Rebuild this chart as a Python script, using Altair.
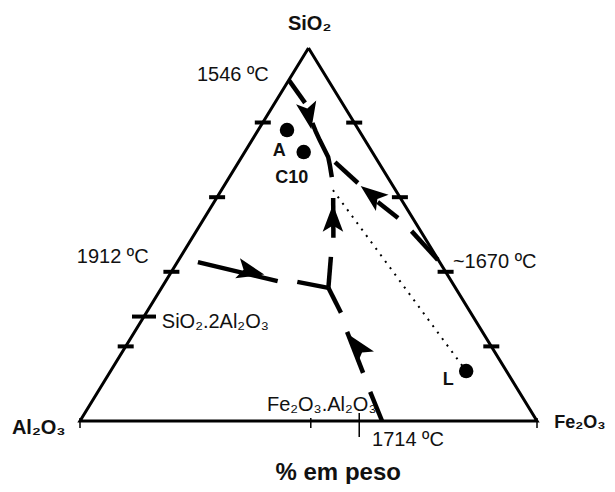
import math
import altair as alt
import pandas as pd

# ---------------- data: compositions in wt% (Al2O3 = 100 - SiO2 - Fe2O3) ----------------
# triangle outline (SiO2 apex, Al2O3 left, Fe2O3 right)
edge_sio2 = [100, 0, 0, 100]
edge_fe2o3 = [0, 0, 100, 0]

# dashed boundary curves, as their visible pieces
bnd_piece = ["a1", "a1",
             "a2", "a2", "a2", "a2", "a2", "a2",
             "b1", "b1", "b2", "b2", "b3", "b3",
             "c1", "c1", "c2", "c2",
             "d1", "d1", "d2", "d2",
             "e1", "e1", "e2", "e2", "e3", "e3"]
bnd_sio2 = [91.4, 85.3,
            79.9, 77.7, 75.3, 70.8, 68.4, 65.4,
            43.2, 50.9, 54.4, 58.7, 63.8, 69.4,
            59.8, 49.1, 44.0, 35.7,
            42.6, 37.5, 37.3, 35.7,
            35.7, 29.0, 23.9, 12.9, 7.8, 0.0]
bnd_fe2o3 = [0.0, 6.6,
             10.9, 12.7, 14.8, 18.9, 20.5, 22.4,
             56.7, 47.1, 42.4, 35.8, 28.9, 21.1,
             25.5, 30.9, 32.9, 36.5,
             4.5, 24.5, 28.9, 36.5,
             36.5, 42.6, 46.5, 55.5, 59.6, 66.1]

# arrows on the boundary curves (tail -> tip)
arrow_tail_sio2 = [83.4, 40.8, 59.0, 52.5, 17.2]
arrow_tail_fe2o3 = [8.1, 14.6, 36.1, 29.1, 53.8]
arrow_tip_sio2 = [80.2, 39.4, 62.5, 56.3, 22.8]
arrow_tip_fe2o3 = [10.2, 20.1, 30.7, 27.2, 47.7]

# dotted tie line C10 -> L
tie_sio2 = [61.9, 13.4]
tie_fe2o3 = [24.4, 77.8]

# samples
sample_sio2 = [78.0, 72.1, 13.4]
sample_fe2o3 = [6.3, 12.9, 77.8]

# edge ticks
edge_tick_sio2 = [80, 60, 40, 20]
mullite_sio2 = [28.0]
base_tick_fe2o3 = [50.5, 61.1]

# ---------------- layout ----------------
W, H = 599, 476
X0, Y0 = 72.0, 413.0      # plot-pixel position of the Al2O3 corner
KX, KY = 4.57, 3.73       # pixels per wt% along x and y
XD = [-X0 / KX, (W - X0) / KX]
YD = [-(H - Y0) / KY, Y0 / KY]

FONT = "Liberation Sans"
INK = "#111111"

xs = alt.Scale(domain=XD, nice=False, zero=False)
ys = alt.Scale(domain=YD, nice=False, zero=False)
X = alt.X("x:Q", scale=xs, axis=None)
Y = alt.Y("y:Q", scale=ys, axis=None)


def tern(si, fe, **extra):
    df = pd.DataFrame({"sio2": si, "fe2o3": fe, **extra})
    df["x"] = df["fe2o3"] + df["sio2"] / 2.0
    df["y"] = df["sio2"]
    df["i"] = range(len(df))
    return df


edges = alt.Chart(tern(edge_sio2, edge_fe2o3)).mark_line(
    color="black", strokeWidth=3, strokeJoin="miter"
).encode(x=X, y=Y, order="i:Q")

bnd = alt.Chart(tern(bnd_sio2, bnd_fe2o3, piece=bnd_piece)).mark_line(
    color="black", strokeWidth=4.5, strokeCap="butt"
).encode(x=X, y=Y, detail="piece:N", order="i:Q")

# arrows
tail = tern(arrow_tail_sio2, arrow_tail_fe2o3)
tip = tern(arrow_tip_sio2, arrow_tip_fe2o3)
arr = pd.DataFrame({
    "x": (tail["x"] + tip["x"]) / 2.0,
    "y": (tail["y"] + tip["y"]) / 2.0,
})
angles = []
for k in range(len(tail)):
    dx = (tip["x"][k] - tail["x"][k]) * KX
    dy = -(tip["y"][k] - tail["y"][k]) * KY
    angles.append(math.degrees(math.atan2(dx, -dy)) % 360)
arr["angle"] = angles
arrows = alt.Chart(arr).mark_point(
    shape="M0,-1L0.75,1L0,0.55L-0.75,1Z", filled=True, color="black", opacity=1, size=750
).encode(x=X, y=Y, angle=alt.Angle("angle:Q", scale=None))

tie = alt.Chart(tern(tie_sio2, tie_fe2o3)).mark_line(
    color="black", strokeWidth=2, strokeDash=[2, 6]
).encode(x=X, y=Y, order="i:Q")

samples = alt.Chart(tern(sample_sio2, sample_fe2o3)).mark_point(
    shape="circle", filled=True, color="black", opacity=1, size=210
).encode(x=X, y=Y)

left_ticks = tern(edge_tick_sio2, [0] * len(edge_tick_sio2))
right_ticks = tern(edge_tick_sio2, [100 - s for s in edge_tick_sio2])
side_ticks = alt.Chart(pd.concat([left_ticks, right_ticks])).mark_tick(
    orient="horizontal", size=16, thickness=4, color="black", opacity=1
).encode(x=X, y=Y)
mull_tick = alt.Chart(tern(mullite_sio2, [0])).mark_tick(
    orient="horizontal", size=24, thickness=4, color="black", opacity=1
).encode(x=X, y=Y)
corner_ticks = alt.Chart(tern([0, 0, 0], [0, 100, base_tick_fe2o3[0]])).mark_tick(
    orient="vertical", size=10, thickness=1.5, color="black", opacity=1, yOffset=2
).encode(x=X, y=Y)
cmp_tick = alt.Chart(tern([0], [base_tick_fe2o3[1]])).mark_tick(
    orient="vertical", size=24, thickness=1.5, color="black", opacity=1, yOffset=4
).encode(x=X, y=Y)

# text annotations (projected coordinates)
labels = [
    ("SiO₂", 45.5, 106.4, 20, "bold", "left"),
    ("Al₂O₃", -14.9, -1.9, 20, "bold", "left"),
    ("Fe₂O₃", 103.8, -0.5, 18, "bold", "left"),
    ("% em peso", 56.5, -13.9, 24, "bold", "center"),
    ("1546 ºC", 25.6, 92.8, 20, "normal", "left"),
    ("1912 ºC", -0.7, 44.0, 20, "normal", "left"),
    ("~1670 ºC", 81.6, 42.6, 20, "normal", "left"),
    ("1714 ºC", 63.9, -5.1, 20, "normal", "left"),
    ("SiO₂.2Al₂O₃", 17.9, 26.5, 20, "normal", "left"),
    ("Fe₂O₃.Al₂O₃", 40.9, 4.3, 20, "normal", "left"),
    ("A", 42.2, 72.3, 18, "bold", "left"),
    ("C10", 42.7, 65.1, 18, "bold", "left"),
    ("L", 79.4, 11.0, 18, "bold", "left"),
]
text_layers = []
for txt, lx, ly, fs, fw, al in labels:
    text_layers.append(
        alt.Chart(pd.DataFrame({"x": [lx], "y": [ly], "t": [txt]})).mark_text(
            font=FONT, fontSize=fs, fontWeight=fw, align=al, baseline="middle", color=INK
        ).encode(x=X, y=Y, text="t:N")
    )

chart = alt.layer(
    edges, side_ticks, mull_tick, corner_ticks, cmp_tick,
    bnd, arrows, tie, samples, *text_layers
).properties(
    width=W, height=H, padding=0,
    autosize=alt.AutoSizeParams(type="none"),
    background="white",
).configure_view(stroke=None)

chart.save("out.html", embed_options={"renderer": "svg", "actions": False})
